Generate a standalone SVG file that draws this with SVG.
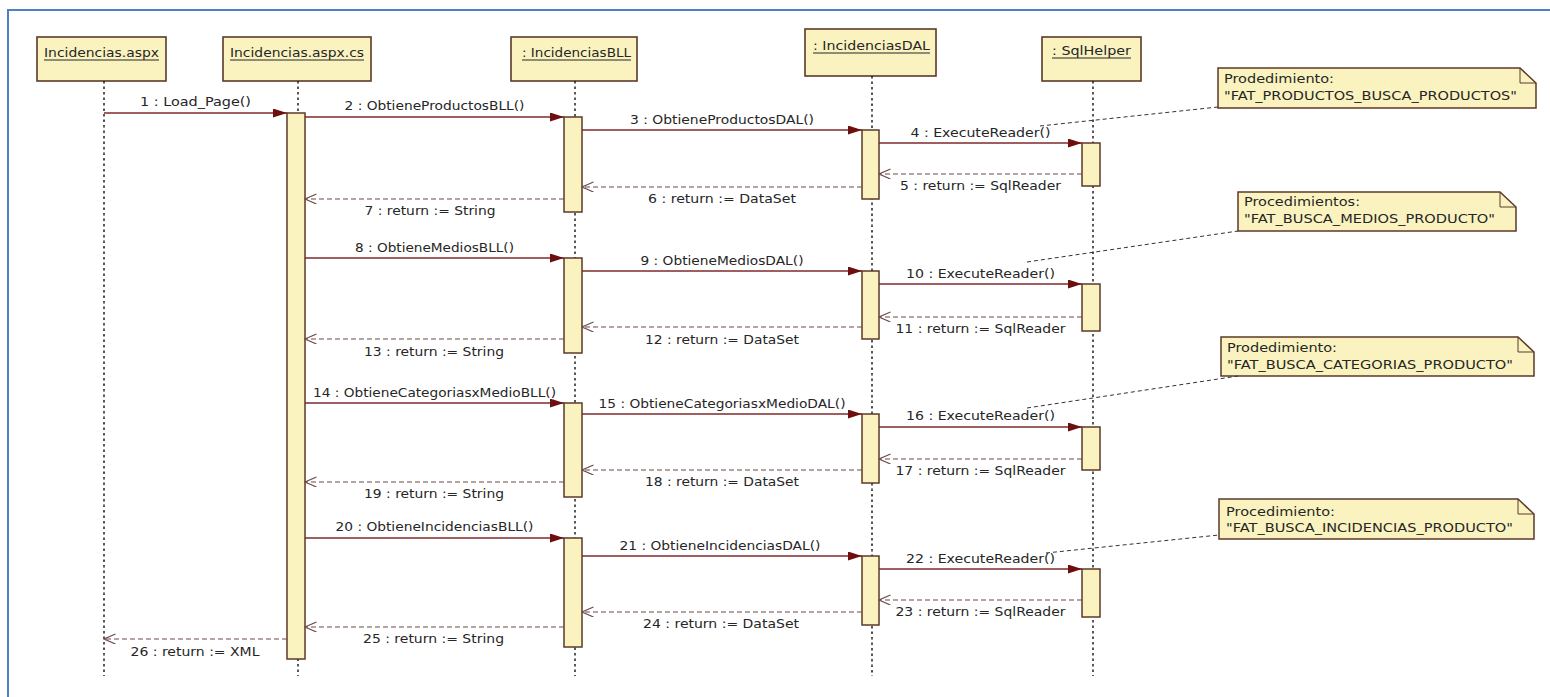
<svg xmlns="http://www.w3.org/2000/svg" width="1550" height="697" viewBox="0 0 1550 697">
  <defs>
    <style>
      .txt { font-family: "DejaVu Sans", Verdana, sans-serif; fill: #262626; }
      .hdr { font-size: 12.5px; }
      .msg { font-size: 12px; }
      .nt { font-size: 11.5px; }
      .box { fill: #faf3c0; stroke: #5b3a29; stroke-width: 1.6; }
      .act { fill: #faf3c0; stroke: #5b3a29; stroke-width: 1.5; }
      .ul { stroke: #262626; stroke-width: 1; }
      .life { stroke: #222; stroke-width: 1.5; stroke-dasharray: 2.5 3; fill: none; }
      .call { stroke: #7d2a2a; stroke-width: 1.3; fill: none; marker-end: url(#arrCall); }
      .ret { stroke: #6e4a4a; stroke-width: 1.2; stroke-dasharray: 5 3; fill: none; marker-end: url(#arrRet); }
      .link { stroke: #333; stroke-width: 1; stroke-dasharray: 4 3; fill: none; }
      .note { fill: #faf3c0; stroke: #5b3a29; stroke-width: 1.5; }
    </style>
    <marker id="arrCall" markerUnits="userSpaceOnUse" markerWidth="15" markerHeight="10" refX="14" refY="4.5" orient="auto">
      <path d="M0,0 L14,4.5 L0,9 z" fill="#6e0f0f"/>
    </marker>
    <marker id="arrRet" markerUnits="userSpaceOnUse" markerWidth="13" markerHeight="11" refX="11.5" refY="5" orient="auto">
      <path d="M0,0 L11.5,5 L0,10" fill="none" stroke="#6e4a4a" stroke-width="1.2"/>
    </marker>
  </defs>

  <rect width="1550" height="697" fill="#ffffff"/>

  <!-- frame (left and top edges) -->
  <g id="frame">
    <path d="M8,697 L8,10 L1550,10" fill="none" stroke="#4f7fc4" stroke-width="2"/>
  </g>

  <!-- lifeline: Incidencias.aspx -->
  <g id="incidencias-aspx">
    <rect class="box" x="37" y="37" width="129" height="44"/>
    <text class="txt hdr" x="44" y="57" textLength="115" lengthAdjust="spacingAndGlyphs">Incidencias.aspx</text>
    <line class="ul" x1="44" y1="60" x2="159" y2="60"/>
    <line class="life" x1="104" y1="81" x2="104" y2="676"/>
  </g>

  <!-- lifeline: Incidencias.aspx.cs -->
  <g id="incidencias-aspx-cs">
    <rect class="box" x="223" y="37" width="148" height="44"/>
    <text class="txt hdr" x="230" y="57" textLength="134" lengthAdjust="spacingAndGlyphs">Incidencias.aspx.cs</text>
    <line class="ul" x1="230" y1="60" x2="364" y2="60"/>
    <line class="life" x1="298" y1="81" x2="298" y2="676"/>
    <rect class="act" x="287" y="113" width="18" height="546"/>
  </g>

  <!-- lifeline: IncidenciasBLL -->
  <g id="incidencias-bll">
    <rect class="box" x="511" y="37" width="126" height="44"/>
    <text class="txt hdr" x="522" y="57" textLength="109" lengthAdjust="spacingAndGlyphs">: IncidenciasBLL</text>
    <line class="ul" x1="522" y1="60" x2="631" y2="60"/>
    <line class="life" x1="575" y1="81" x2="575" y2="676"/>
    <rect class="act" x="564" y="117" width="18" height="95"/>
    <rect class="act" x="564" y="258" width="18" height="95"/>
    <rect class="act" x="564" y="403" width="18" height="94"/>
    <rect class="act" x="564" y="538" width="18" height="109"/>
  </g>

  <!-- lifeline: IncidenciasDAL -->
  <g id="incidencias-dal">
    <rect class="box" x="805" y="29" width="131" height="47"/>
    <text class="txt hdr" x="813" y="50" textLength="117" lengthAdjust="spacingAndGlyphs">: IncidenciasDAL</text>
    <line class="ul" x1="813" y1="53" x2="930" y2="53"/>
    <line class="life" x1="872" y1="76" x2="872" y2="676"/>
    <rect class="act" x="862" y="130" width="17" height="69"/>
    <rect class="act" x="862" y="271" width="17" height="68"/>
    <rect class="act" x="862" y="414" width="17" height="69"/>
    <rect class="act" x="862" y="556" width="17" height="69"/>
  </g>

  <!-- lifeline: SqlHelper -->
  <g id="sqlhelper">
    <rect class="box" x="1042" y="37" width="99" height="44"/>
    <text class="txt hdr" x="1052" y="55" textLength="79" lengthAdjust="spacingAndGlyphs">: SqlHelper</text>
    <line class="ul" x1="1052" y1="58" x2="1131" y2="58"/>
    <line class="life" x1="1093" y1="81" x2="1093" y2="676"/>
    <rect class="act" x="1082" y="143" width="18" height="43"/>
    <rect class="act" x="1082" y="284" width="18" height="47"/>
    <rect class="act" x="1082" y="427" width="18" height="43"/>
    <rect class="act" x="1082" y="569" width="18" height="48"/>
  </g>

  <!-- notes -->
  <g id="note-productos">
    <path class="note" d="M1218,68 L1520,68 L1536,83 L1536,108 L1218,108 z"/>
    <path d="M1520,68 L1520,83 L1536,83" fill="none" stroke="#5b3a29" stroke-width="1"/>
    <text class="txt nt" x="1224" y="83" textLength="110" lengthAdjust="spacingAndGlyphs">Prodedimiento:</text>
    <text class="txt nt" x="1224" y="100" textLength="293" lengthAdjust="spacingAndGlyphs">"FAT_PRODUCTOS_BUSCA_PRODUCTOS"</text>
  </g>
  <g id="note-medios">
    <path class="note" d="M1238,192 L1500,192 L1516,207 L1516,231 L1238,231 z"/>
    <path d="M1500,192 L1500,207 L1516,207" fill="none" stroke="#5b3a29" stroke-width="1"/>
    <text class="txt nt" x="1244" y="206" textLength="116" lengthAdjust="spacingAndGlyphs">Procedimientos:</text>
    <text class="txt nt" x="1244" y="223" textLength="251" lengthAdjust="spacingAndGlyphs">"FAT_BUSCA_MEDIOS_PRODUCTO"</text>
  </g>
  <g id="note-categorias">
    <path class="note" d="M1221,337 L1518,337 L1534,352 L1534,376 L1221,376 z"/>
    <path d="M1518,337 L1518,352 L1534,352" fill="none" stroke="#5b3a29" stroke-width="1"/>
    <text class="txt nt" x="1227" y="352" textLength="110" lengthAdjust="spacingAndGlyphs">Prodedimiento:</text>
    <text class="txt nt" x="1227" y="369" textLength="286" lengthAdjust="spacingAndGlyphs">"FAT_BUSCA_CATEGORIAS_PRODUCTO"</text>
  </g>
  <g id="note-incidencias">
    <path class="note" d="M1219,499 L1518,499 L1534,514 L1534,539 L1219,539 z"/>
    <path d="M1518,499 L1518,514 L1534,514" fill="none" stroke="#5b3a29" stroke-width="1"/>
    <text class="txt nt" x="1226" y="516" textLength="109" lengthAdjust="spacingAndGlyphs">Procedimiento:</text>
    <text class="txt nt" x="1226" y="532" textLength="287" lengthAdjust="spacingAndGlyphs">"FAT_BUSCA_INCIDENCIAS_PRODUCTO"</text>
  </g>

  <!-- connectors: messages, returns and note links -->
  <g id="connectors">
    <line class="link" x1="1040" y1="126" x2="1218" y2="107"/>
    <line class="link" x1="1027" y1="262" x2="1238" y2="231"/>
    <line class="link" x1="1027" y1="408" x2="1238" y2="376"/>
    <line class="link" x1="1046" y1="553" x2="1219" y2="535"/>

    <line class="call" x1="104" y1="113" x2="287" y2="113"/>
    <line class="call" x1="305" y1="117" x2="564" y2="117"/>
    <line class="call" x1="582" y1="130" x2="862" y2="130"/>
    <line class="call" x1="879" y1="143" x2="1082" y2="143"/>
    <line class="ret" x1="1082" y1="174" x2="879" y2="174"/>
    <line class="ret" x1="862" y1="187" x2="582" y2="187"/>
    <line class="ret" x1="564" y1="199" x2="305" y2="199"/>

    <line class="call" x1="305" y1="258" x2="564" y2="258"/>
    <line class="call" x1="582" y1="271" x2="862" y2="271"/>
    <line class="call" x1="879" y1="284" x2="1082" y2="284"/>
    <line class="ret" x1="1082" y1="317" x2="879" y2="317"/>
    <line class="ret" x1="862" y1="327" x2="582" y2="327"/>
    <line class="ret" x1="564" y1="339" x2="305" y2="339"/>

    <line class="call" x1="305" y1="403" x2="564" y2="403"/>
    <line class="call" x1="582" y1="414" x2="862" y2="414"/>
    <line class="call" x1="879" y1="427" x2="1082" y2="427"/>
    <line class="ret" x1="1082" y1="459" x2="879" y2="459"/>
    <line class="ret" x1="862" y1="470" x2="582" y2="470"/>
    <line class="ret" x1="564" y1="482" x2="305" y2="482"/>

    <line class="call" x1="305" y1="538" x2="564" y2="538"/>
    <line class="call" x1="582" y1="556" x2="862" y2="556"/>
    <line class="call" x1="879" y1="569" x2="1082" y2="569"/>
    <line class="ret" x1="1082" y1="600" x2="879" y2="600"/>
    <line class="ret" x1="862" y1="612" x2="582" y2="612"/>
    <line class="ret" x1="564" y1="627" x2="305" y2="627"/>
    <line class="ret" x1="287" y1="639" x2="104" y2="639"/>
  </g>

  <!-- message labels -->
  <g id="labels" class="txt msg" text-anchor="middle">
    <text x="195.5" y="106" textLength="111" lengthAdjust="spacingAndGlyphs">1 : Load_Page()</text>
    <text x="434.5" y="110" textLength="180" lengthAdjust="spacingAndGlyphs">2 : ObtieneProductosBLL()</text>
    <text x="722" y="124" textLength="184" lengthAdjust="spacingAndGlyphs">3 : ObtieneProductosDAL()</text>
    <text x="980.5" y="137" textLength="140" lengthAdjust="spacingAndGlyphs">4 : ExecuteReader()</text>
    <text x="980.5" y="190" textLength="161" lengthAdjust="spacingAndGlyphs">5 : return := SqlReader</text>
    <text x="722" y="203" textLength="148" lengthAdjust="spacingAndGlyphs">6 : return := DataSet</text>
    <text x="430" y="215" textLength="131" lengthAdjust="spacingAndGlyphs">7 : return := String</text>

    <text x="434.5" y="252" textLength="159" lengthAdjust="spacingAndGlyphs">8 : ObtieneMediosBLL()</text>
    <text x="722" y="265" textLength="163" lengthAdjust="spacingAndGlyphs">9 : ObtieneMediosDAL()</text>
    <text x="980.5" y="278" textLength="149" lengthAdjust="spacingAndGlyphs">10 : ExecuteReader()</text>
    <text x="980.5" y="333" textLength="170" lengthAdjust="spacingAndGlyphs">11 : return := SqlReader</text>
    <text x="722" y="344" textLength="154" lengthAdjust="spacingAndGlyphs">12 : return := DataSet</text>
    <text x="434" y="356" textLength="140" lengthAdjust="spacingAndGlyphs">13 : return := String</text>

    <text x="434.5" y="397" textLength="243" lengthAdjust="spacingAndGlyphs">14 : ObtieneCategoriasxMedioBLL()</text>
    <text x="722" y="408" textLength="247" lengthAdjust="spacingAndGlyphs">15 : ObtieneCategoriasxMedioDAL()</text>
    <text x="980.5" y="420" textLength="149" lengthAdjust="spacingAndGlyphs">16 : ExecuteReader()</text>
    <text x="980.5" y="475" textLength="170" lengthAdjust="spacingAndGlyphs">17 : return := SqlReader</text>
    <text x="722" y="486" textLength="154" lengthAdjust="spacingAndGlyphs">18 : return := DataSet</text>
    <text x="434" y="498" textLength="140" lengthAdjust="spacingAndGlyphs">19 : return := String</text>

    <text x="434.5" y="531" textLength="198" lengthAdjust="spacingAndGlyphs">20 : ObtieneIncidenciasBLL()</text>
    <text x="720" y="550" textLength="201" lengthAdjust="spacingAndGlyphs">21 : ObtieneIncidenciasDAL()</text>
    <text x="980.5" y="563" textLength="149" lengthAdjust="spacingAndGlyphs">22 : ExecuteReader()</text>
    <text x="980.5" y="616" textLength="170" lengthAdjust="spacingAndGlyphs">23 : return := SqlReader</text>
    <text x="721" y="628" textLength="156" lengthAdjust="spacingAndGlyphs">24 : return := DataSet</text>
    <text x="433.5" y="643" textLength="141" lengthAdjust="spacingAndGlyphs">25 : return := String</text>
    <text x="195" y="656" textLength="129" lengthAdjust="spacingAndGlyphs">26 : return := XML</text>
  </g>
</svg>
